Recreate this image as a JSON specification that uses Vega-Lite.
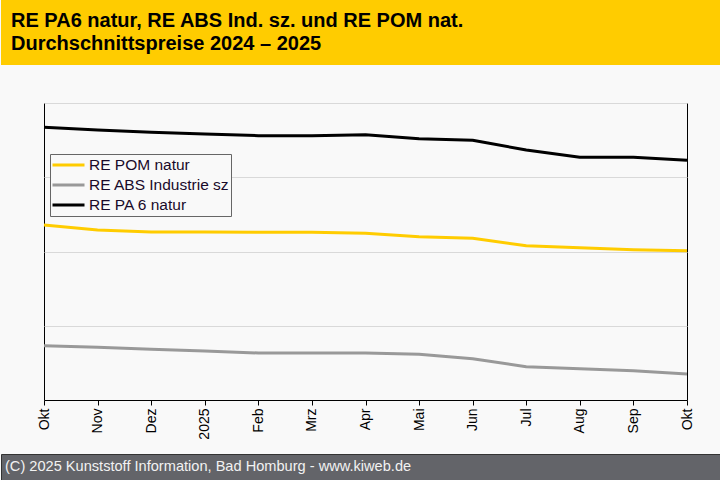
{
  "$schema": "https://vega.github.io/schema/vega-lite/v6.json",
  "background": "#f9f9f9",
  "padding": 0,
  "columns": 1,
  "align": "none",
  "spacing": 37,
  "concat": [
    {
      "width": 720,
      "height": 65,
      "view": {"fill": "#ffcc00", "stroke": null},
      "data": {"values": [{"pos": 0, "txt": "RE PA6 natur, RE ABS Ind. sz. und RE POM nat.\nDurchschnittspreise 2024 – 2025"}]},
      "mark": {"type": "text", "align": "left", "baseline": "middle", "dx": 10, "dy": -12, "fontSize": 20, "fontWeight": "bold", "lineHeight": 23.5, "lineBreak": "\n", "font": "Liberation Sans", "color": "#000000"},
      "encoding": {
        "x": {"field": "pos", "type": "quantitative", "scale": {"domain": [0, 1]}, "axis": null},
        "text": {"field": "txt"}
      }
    },
    {
      "columns": 1,
      "align": "none",
      "spacing": 13,
      "concat": [
        {
          "spacing": 0,
          "bounds": "flush",
          "hconcat": [
            {
              "width": 43,
              "height": 297,
              "view": {"fill": "#f9f9f9", "stroke": null},
              "data": {"values": [{"pos": 0, "txt": ""}]},
              "mark": {"type": "text"},
              "encoding": {
                "x": {"field": "pos", "type": "quantitative", "scale": {"domain": [0, 1]}, "axis": null},
                "text": {"field": "txt"}
              }
            },
            {
              "width": 643,
              "height": 297,
              "view": {"stroke": "#000000", "strokeWidth": 1},
              "data": {"values": [
                {"m": "Okt 24", "serie": "RE POM natur", "wert": 235.7},
                {"m": "Nov", "serie": "RE POM natur", "wert": 229.0},
                {"m": "Dez", "serie": "RE POM natur", "wert": 226.3},
                {"m": "2025", "serie": "RE POM natur", "wert": 226.3},
                {"m": "Feb", "serie": "RE POM natur", "wert": 225.9},
                {"m": "Mrz", "serie": "RE POM natur", "wert": 225.9},
                {"m": "Apr", "serie": "RE POM natur", "wert": 224.5},
                {"m": "Mai", "serie": "RE POM natur", "wert": 219.9},
                {"m": "Jun", "serie": "RE POM natur", "wert": 217.8},
                {"m": "Jul", "serie": "RE POM natur", "wert": 207.8},
                {"m": "Aug", "serie": "RE POM natur", "wert": 205.1},
                {"m": "Sep", "serie": "RE POM natur", "wert": 202.4},
                {"m": "Okt 25", "serie": "RE POM natur", "wert": 201.1},
                {"m": "Okt 24", "serie": "RE ABS Industrie sz", "wert": 73.1},
                {"m": "Nov", "serie": "RE ABS Industrie sz", "wert": 71.0},
                {"m": "Dez", "serie": "RE ABS Industrie sz", "wert": 68.3},
                {"m": "2025", "serie": "RE ABS Industrie sz", "wert": 66.0},
                {"m": "Feb", "serie": "RE ABS Industrie sz", "wert": 63.3},
                {"m": "Mrz", "serie": "RE ABS Industrie sz", "wert": 63.3},
                {"m": "Apr", "serie": "RE ABS Industrie sz", "wert": 63.3},
                {"m": "Mai", "serie": "RE ABS Industrie sz", "wert": 61.5},
                {"m": "Jun", "serie": "RE ABS Industrie sz", "wert": 55.6},
                {"m": "Jul", "serie": "RE ABS Industrie sz", "wert": 44.8},
                {"m": "Aug", "serie": "RE ABS Industrie sz", "wert": 42.2},
                {"m": "Sep", "serie": "RE ABS Industrie sz", "wert": 39.5},
                {"m": "Okt 25", "serie": "RE ABS Industrie sz", "wert": 35.0},
                {"m": "Okt 24", "serie": "RE PA 6 natur", "wert": 367.3},
                {"m": "Nov", "serie": "RE PA 6 natur", "wert": 363.6},
                {"m": "Dez", "serie": "RE PA 6 natur", "wert": 360.5},
                {"m": "2025", "serie": "RE PA 6 natur", "wert": 358.3},
                {"m": "Feb", "serie": "RE PA 6 natur", "wert": 356.0},
                {"m": "Mrz", "serie": "RE PA 6 natur", "wert": 356.0},
                {"m": "Apr", "serie": "RE PA 6 natur", "wert": 357.3},
                {"m": "Mai", "serie": "RE PA 6 natur", "wert": 351.9},
                {"m": "Jun", "serie": "RE PA 6 natur", "wert": 349.8},
                {"m": "Jul", "serie": "RE PA 6 natur", "wert": 336.7},
                {"m": "Aug", "serie": "RE PA 6 natur", "wert": 326.9},
                {"m": "Sep", "serie": "RE PA 6 natur", "wert": 326.9},
                {"m": "Okt 25", "serie": "RE PA 6 natur", "wert": 322.8}
              ]},
              "mark": {"type": "line", "strokeWidth": 3, "strokeJoin": "round"},
              "encoding": {
                "x": {
                  "field": "m",
                  "type": "ordinal",
                  "sort": null,
                  "scale": {"type": "point", "padding": 0},
                  "axis": {
                    "title": null,
                    "labelAngle": -90,
                    "labelExpr": "split(datum.label, ' ')[0]",
                    "labelFont": "Liberation Sans",
                    "labelFontSize": 14,
                    "labelColor": "#000000",
                    "labelPadding": 3,
                    "tickSize": 5,
                    "tickColor": "#000000",
                    "domainColor": "#000000",
                    "grid": false
                  }
                },
                "y": {
                  "field": "wert",
                  "type": "quantitative",
                  "scale": {"domain": [0, 400], "nice": false},
                  "axis": {
                    "title": null,
                    "labels": false,
                    "ticks": false,
                    "domain": false,
                    "tickCount": 4,
                    "grid": true,
                    "gridColor": "#d9d9d9",
                    "minExtent": 0,
                    "maxExtent": 0
                  }
                },
                "color": {
                  "field": "serie",
                  "type": "nominal",
                  "sort": ["RE POM natur", "RE ABS Industrie sz", "RE PA 6 natur"],
                  "scale": {
                    "domain": ["RE POM natur", "RE ABS Industrie sz", "RE PA 6 natur"],
                    "range": ["#ffcc00", "#999999", "#000000"]
                  },
                  "legend": {
                    "title": null,
                    "orient": "none",
                    "legendX": 49,
                    "legendY": 154,
                    "symbolType": "stroke",
                    "symbolSize": 1024,
                    "symbolStrokeWidth": 3,
                    "labelFont": "Liberation Sans",
                    "labelFontSize": 15.5,
                    "labelColor": "#1a0a2a",
                    "clipHeight": 20,
                    "rowPadding": 0,
                    "padding": 1,
                    "strokeColor": "#666666",
                    "fillColor": "#f9f9f9",
                    "labelOffset": 3
                  }
                }
              }
            }
          ]
        },
        {
          "width": 720,
          "height": 26,
          "view": {"fill": "#636469", "stroke": "#333333", "strokeWidth": 1},
          "data": {"values": [{"pos": 0, "txt": "(C) 2025 Kunststoff Information, Bad Homburg - www.kiweb.de"}]},
          "mark": {"type": "text", "align": "left", "baseline": "middle", "dx": 4, "fontSize": 14.6, "font": "Liberation Sans", "color": "#f2f2f2"},
          "encoding": {
            "x": {"field": "pos", "type": "quantitative", "scale": {"domain": [0, 1]}, "axis": null},
            "text": {"field": "txt"}
          }
        }
      ]
    }
  ]
}
